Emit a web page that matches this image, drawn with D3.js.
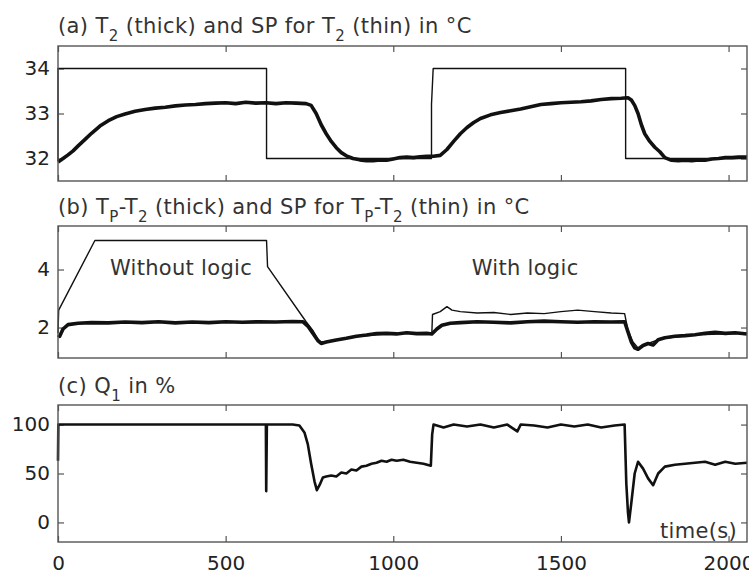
<!DOCTYPE html>
<html>
<head>
<meta charset="utf-8">
<script src="https://cdn.jsdelivr.net/npm/d3@7/dist/d3.min.js"></script>
<style>
  body { margin: 0; background: #fff; }
  svg { display: block; }
  .axis path { display: none; }
  .axis line { stroke: #555; stroke-width: 1.2; }
  .axis text { font-family: "DejaVu Sans", sans-serif; font-size: 20px; fill: #222; }
</style>
</head>
<body>
<svg class="chart" width="749" height="574"></svg>
<script>
// time axis shared by the three panels
const timeTicks = [0, 500, 1000, 1500, 2000];

// (a) T2 (thick) and its set point (thin), in degC  -> [time, value]
const t2Thick = [
  [0, 31.92], [15, 32.0], [30, 32.08], [45, 32.17], [60, 32.28], [80, 32.42], [100, 32.56],
  [125, 32.72], [150, 32.84], [175, 32.93], [200, 32.99], [230, 33.05], [260, 33.09],
  [290, 33.12], [320, 33.14], [350, 33.17], [380, 33.19], [410, 33.2], [440, 33.22],
  [470, 33.23], [500, 33.24], [530, 33.22], [560, 33.25], [590, 33.23], [620, 33.24],
  [650, 33.22], [680, 33.24], [710, 33.23], [740, 33.22], [755, 33.18], [770, 33.0],
  [785, 32.75], [800, 32.55], [815, 32.38], [830, 32.24], [845, 32.13], [860, 32.06],
  [880, 32.0], [900, 31.97], [920, 31.95], [940, 31.95], [960, 31.97], [980, 31.96],
  [1000, 31.99], [1020, 32.02], [1040, 32.03], [1060, 32.02], [1080, 32.04], [1100, 32.05],
  [1120, 32.05], [1140, 32.07], [1160, 32.2], [1180, 32.38], [1200, 32.55], [1220, 32.69],
  [1240, 32.8], [1260, 32.89], [1290, 32.97], [1320, 33.02], [1350, 33.06], [1380, 33.1],
  [1410, 33.15], [1440, 33.2], [1470, 33.22], [1500, 33.24], [1530, 33.25], [1560, 33.26],
  [1590, 33.28], [1620, 33.31], [1650, 33.33], [1680, 33.34], [1700, 33.35], [1710, 33.3],
  [1720, 33.18], [1730, 33.0], [1740, 32.75], [1750, 32.55], [1765, 32.38], [1780, 32.25],
  [1795, 32.15], [1810, 32.02], [1830, 31.96], [1850, 31.95], [1870, 31.96], [1890, 31.95],
  [1910, 31.97], [1930, 31.96], [1950, 31.99], [1970, 32.0], [1990, 32.02], [2010, 32.02],
  [2030, 32.03], [2055, 32.03]
];
const t2SetPoint = [
  [0, 31.95], [0, 34], [622, 34], [622, 32], [1114, 32], [1114, 33.2], [1119, 34],
  [1693, 34], [1693, 32], [2055, 32]
];

// (b) Tp - T2 (thick) and its set point (thin), in degC
const dtThick = [
  [0, 1.75], [5, 1.7], [15, 1.95], [30, 2.1], [60, 2.15], [100, 2.17], [150, 2.16],
  [200, 2.19], [250, 2.17], [300, 2.2], [350, 2.16], [400, 2.19], [450, 2.17], [500, 2.2],
  [550, 2.18], [600, 2.2], [650, 2.19], [700, 2.21], [730, 2.2], [745, 2.05], [760, 1.8],
  [775, 1.55], [785, 1.45], [800, 1.5], [830, 1.57], [860, 1.63], [890, 1.7], [920, 1.74],
  [950, 1.79], [980, 1.8], [1010, 1.78], [1040, 1.82], [1070, 1.79], [1100, 1.8],
  [1115, 1.78], [1130, 1.95], [1145, 2.08], [1170, 2.15], [1200, 2.17], [1250, 2.2],
  [1300, 2.18], [1350, 2.16], [1400, 2.2], [1450, 2.22], [1500, 2.2], [1550, 2.18],
  [1600, 2.2], [1650, 2.19], [1690, 2.2], [1700, 1.85], [1710, 1.5], [1720, 1.3],
  [1730, 1.25], [1745, 1.38], [1760, 1.45], [1775, 1.4], [1790, 1.58], [1810, 1.65],
  [1840, 1.7], [1870, 1.72], [1900, 1.75], [1930, 1.8], [1960, 1.84], [1990, 1.8],
  [2020, 1.82], [2055, 1.78]
];
const dtSetPoint = [
  [0, 1.8], [2, 2.6], [110, 5.0], [622, 5.0], [625, 4.1], [740, 2.2], [760, 1.9],
  [775, 1.6], [785, 1.5], [800, 1.52], [900, 1.7], [1000, 1.8], [1115, 1.8], [1117, 2.45],
  [1140, 2.55], [1160, 2.72], [1175, 2.6], [1200, 2.55], [1250, 2.5], [1300, 2.52],
  [1350, 2.45], [1400, 2.5], [1450, 2.48], [1500, 2.55], [1550, 2.6], [1600, 2.55],
  [1650, 2.5], [1690, 2.48], [1700, 1.9], [1715, 1.5], [1730, 1.3], [1760, 1.45],
  [1800, 1.62], [1900, 1.75], [2055, 1.8]
];

// (c) heater power Q1, in %
const q1 = [
  [0, 63], [1, 100], [620, 100], [621, 32], [623, 100], [700, 100], [720, 99], [735, 92],
  [745, 80], [755, 60], [765, 42], [772, 33], [780, 38], [790, 46], [800, 47], [815, 48],
  [830, 47], [845, 51], [860, 50], [875, 54], [890, 53], [905, 57], [920, 58], [935, 60],
  [950, 61], [965, 63], [980, 62], [995, 64], [1010, 63], [1030, 64], [1050, 62], [1070, 61],
  [1090, 60], [1112, 58], [1116, 90], [1120, 100], [1150, 97], [1180, 100], [1220, 98],
  [1260, 100], [1300, 97], [1340, 100], [1370, 93], [1380, 100], [1420, 99], [1460, 97],
  [1500, 100], [1540, 98], [1580, 100], [1620, 97], [1660, 99], [1690, 100], [1695, 40],
  [1700, 10], [1703, 0], [1710, 20], [1720, 50], [1730, 62], [1745, 55], [1760, 45],
  [1775, 38], [1790, 50], [1810, 57], [1840, 59], [1870, 60], [1900, 61], [1930, 62],
  [1960, 59], [1990, 62], [2020, 60], [2055, 61]
];

const svg = d3.select('.chart');
const left = 58, right = 747;
const font = '"DejaVu Sans", sans-serif';

const x = d3.scaleLinear().domain([0, 2055]).range([left, right]);

const panels = [
  { top: 46, bottom: 181, domain: [31.5, 34.5], ticks: [32, 33, 34],
    titleY: 33, title: ['(a) T', '2', ' (thick) and SP for T', '2', ' (thin) in °C'],
    series: [{ data: t2SetPoint, w: 1.4 }, { data: t2Thick, w: 3.6 }] },
  { top: 226, bottom: 358, domain: [0.95, 5.5], ticks: [2, 4],
    titleY: 214, title: ['(b) T', 'P', '-T', '2', ' (thick) and SP for T', 'P', '-T', '2', ' (thin) in °C'],
    series: [{ data: dtSetPoint, w: 1.4 }, { data: dtThick, w: 3.6 }] },
  { top: 405, bottom: 542, domain: [-20, 120], ticks: [0, 50, 100],
    titleY: 393, title: ['(c) Q', '1', ' in %'],
    series: [{ data: q1, w: 2.6 }] }
];

panels.forEach((p, i) => {
  const y = d3.scaleLinear().domain(p.domain).range([p.bottom, p.top]);
  const g = svg.append('g');

  // title with subscripts on every second piece
  const title = g.append('text')
    .attr('x', left)
    .attr('y', p.titleY)
    .style('font-family', font)
    .style('font-size', '21px')
    .style('letter-spacing', '0.4px')
    .style('fill', '#333');
  p.title.forEach((s, k) => {
    const sub = k % 2 === 1;
    title.append('tspan')
      .attr('dy', sub ? 8 : (k > 0 ? -8 : 0))
      .style('font-size', sub ? '15px' : null)
      .text(s);
  });

  // inward ticks on all four sides, MATLAB style
  g.append('g').attr('class', 'axis')
    .attr('transform', `translate(${left},0)`)
    .call(d3.axisLeft(y).tickValues(p.ticks).tickSizeInner(-6).tickSizeOuter(0)
      .tickPadding(8).tickFormat(d3.format('d')));
  g.append('g').attr('class', 'axis')
    .attr('transform', `translate(${right},0)`)
    .call(d3.axisRight(y).tickValues(p.ticks).tickSizeInner(-6).tickSizeOuter(0).tickFormat(''));
  g.append('g').attr('class', 'axis')
    .attr('transform', `translate(0,${p.top})`)
    .call(d3.axisTop(x).tickValues(timeTicks).tickSizeInner(-6).tickSizeOuter(0).tickFormat(''));
  g.append('g').attr('class', 'axis')
    .attr('transform', `translate(0,${p.bottom})`)
    .call(d3.axisBottom(x).tickValues(timeTicks).tickSizeInner(-6).tickSizeOuter(0)
      .tickPadding(14).tickFormat(i === 2 ? d3.format('d') : ''));

  const line = d3.line().x(d => x(d[0])).y(d => y(d[1]));
  p.series.forEach(s => {
    g.append('path')
      .datum(s.data)
      .attr('d', line)
      .attr('fill', 'none')
      .attr('stroke', '#111')
      .attr('stroke-width', s.w)
      .attr('stroke-linejoin', 'round');
  });

  g.append('rect')
    .attr('x', left).attr('y', p.top)
    .attr('width', right - left).attr('height', p.bottom - p.top)
    .attr('fill', 'none').attr('stroke', '#555').attr('stroke-width', 1.4);

  p.y = y;
});

// annotations
const note = (txt, xv, yv, panel, anchor) => svg.append('text')
  .attr('x', x(xv)).attr('y', panels[panel].y(yv))
  .attr('text-anchor', anchor || 'start')
  .style('font-family', font)
  .style('font-size', '21px')
  .style('letter-spacing', '0.3px')
  .style('fill', '#333')
  .text(txt);

note('Without logic', 155, 3.8, 1);
note('With logic', 1234, 3.8, 1);
note('time(s)', 2025, -16, 2, 'end');
</script>
</body>
</html>
